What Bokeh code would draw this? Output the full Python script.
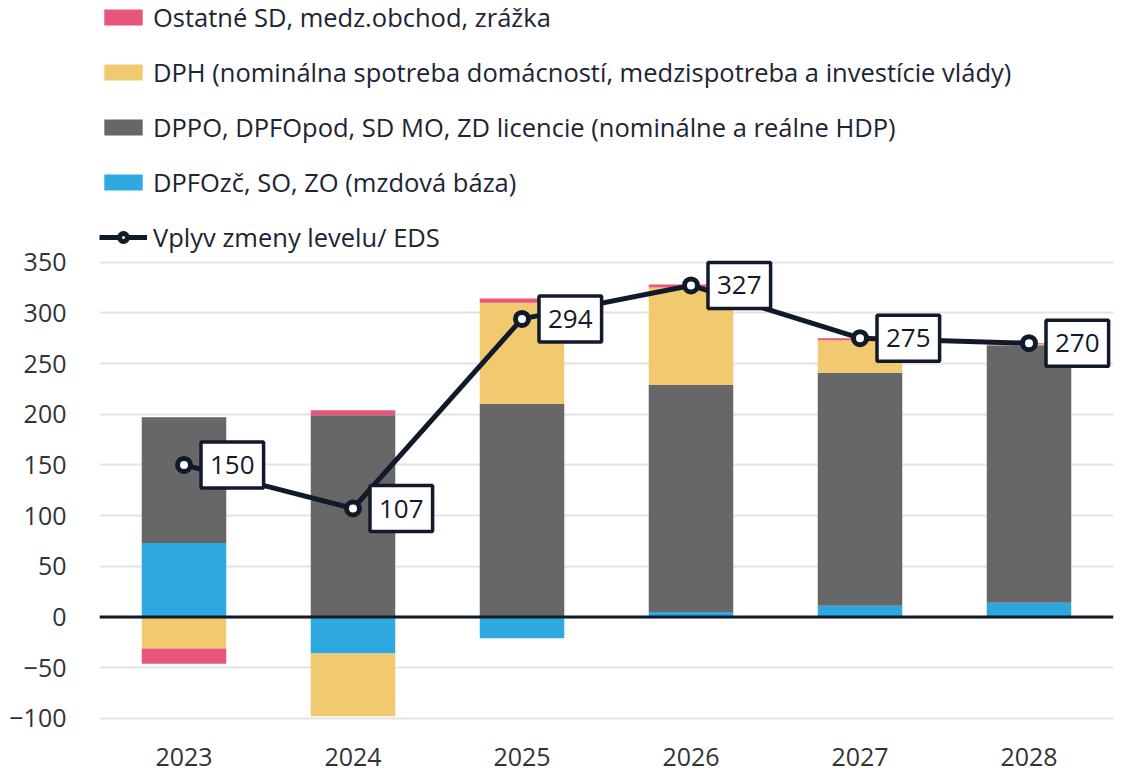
from bokeh.plotting import figure
from bokeh.models import (ColumnDataSource, FactorRange, Range1d, FixedTicker, Span,
                          Legend, LegendItem, Label)
from bokeh.embed import file_html
from bokeh.resources import INLINE

years = ["2023", "2024", "2025", "2026", "2027", "2028"]
blue = [73, -36, -21, 5, 11, 14]        # DPFOzč, SO, ZO
grey = [124, 199, 210, 224, 230, 254]   # DPPO, DPFOpod, ...
yellow = [-31, -62, 100, 96, 32, 1]     # DPH
red = [-15, 5, 4, 3, 2, 1]              # Ostatné SD
level = [150, 107, 294, 327, 275, 270]  # Vplyv zmeny levelu/ EDS
yticks = [-100, -50, 0, 50, 100, 150, 200, 250, 300, 350]

names = ["blue", "grey", "yellow", "red"]
series = [blue, grey, yellow, red]
colors = ["#2EA9E0", "#676767", "#F1C96E", "#E8557A"]
labels = {
    "red": "Ostatné SD, medz.obchod, zrážka",
    "yellow": "DPH (nominálna spotreba domácností, medzispotreba a investície vlády)",
    "grey": "DPPO, DPFOpod, SD MO, ZD licencie (nominálne a reálne HDP)",
    "blue": "DPFOzč, SO, ZO (mzdová báza)",
}

data = {"years": years, "level": level}
for n, s in zip(names, series):
    data[n + "_pos"] = [max(v, 0) for v in s]
    data[n + "_neg"] = [min(v, 0) for v in s]
src = ColumnDataSource(data)

FONT = "Open Sans"
TXT = "#1d2433"
DARK = "#111a2a"

p = figure(x_range=FactorRange(*years), y_range=Range1d(-107, 608),
           frame_width=1014, frame_height=725,
           min_border_left=99, min_border_right=10, min_border_top=0, min_border_bottom=46,
           output_backend="svg", toolbar_location=None)
p.outline_line_color = None
p.background_fill_color = "white"

pos_r = p.vbar_stack([n + "_pos" for n in names], x="years", width=0.5, color=colors,
                     line_color=None, source=src)
neg_r = p.vbar_stack([n + "_neg" for n in names], x="years", width=0.5, color=colors,
                     line_color=None, source=src)

p.add_layout(Span(location=0, dimension="width", line_color=DARK, line_width=3))

line_r = p.line("years", "level", source=src, line_color=DARK, line_width=5)
pt_r = p.scatter("years", "level", source=src, size=13, marker="circle",
                 fill_color="white", line_color=DARK, line_width=5)

# categorical factor i sits at synthetic coordinate i + 0.5
for i, v in enumerate(level):
    p.add_layout(Label(x=i + 0.5, y=v, text=str(v), x_offset=17, text_baseline="middle",
                       text_align="left", text_font=FONT, text_font_size="26px",
                       text_color=DARK, background_fill_color="white",
                       border_line_color=DARK, border_line_width=3.5, padding=(9, 14)))

# axes
p.yaxis.ticker = FixedTicker(ticks=yticks)
p.yaxis.axis_line_color = None
p.yaxis.major_tick_line_color = None
p.yaxis.minor_tick_line_color = None
p.yaxis.major_label_standoff = 27
p.yaxis.major_label_text_font = FONT
p.yaxis.major_label_text_font_size = "25px"
p.yaxis.major_label_text_color = "#333333"
p.xaxis.axis_line_color = None
p.xaxis.major_tick_line_color = None
p.xaxis.major_label_standoff = 16
p.xaxis.major_label_text_font = FONT
p.xaxis.major_label_text_font_size = "25px"
p.xaxis.major_label_text_color = "#333333"
p.xgrid.grid_line_color = None
p.ygrid.grid_line_color = "#E4E4E4"
p.ygrid.grid_line_width = 2
p.x_range.range_padding = 0
p.x_range.group_padding = 0

items = [
    LegendItem(label=labels["red"], renderers=[pos_r[3]]),
    LegendItem(label=labels["yellow"], renderers=[pos_r[2]]),
    LegendItem(label=labels["grey"], renderers=[pos_r[1]]),
    LegendItem(label=labels["blue"], renderers=[pos_r[0]]),
    LegendItem(label="Vplyv zmeny levelu/ EDS", renderers=[line_r, pt_r]),
]
legend = Legend(items=items, location="top_left", orientation="vertical",
                glyph_width=48, glyph_height=20, label_height=20, spacing=21,
                label_standoff=6, padding=5, margin=0,
                label_text_font=FONT, label_text_font_size="25.5px", label_text_color=TXT,
                background_fill_alpha=0, border_line_color=None)
p.add_layout(legend)

open("out.html", "w").write(file_html(p, INLINE))
